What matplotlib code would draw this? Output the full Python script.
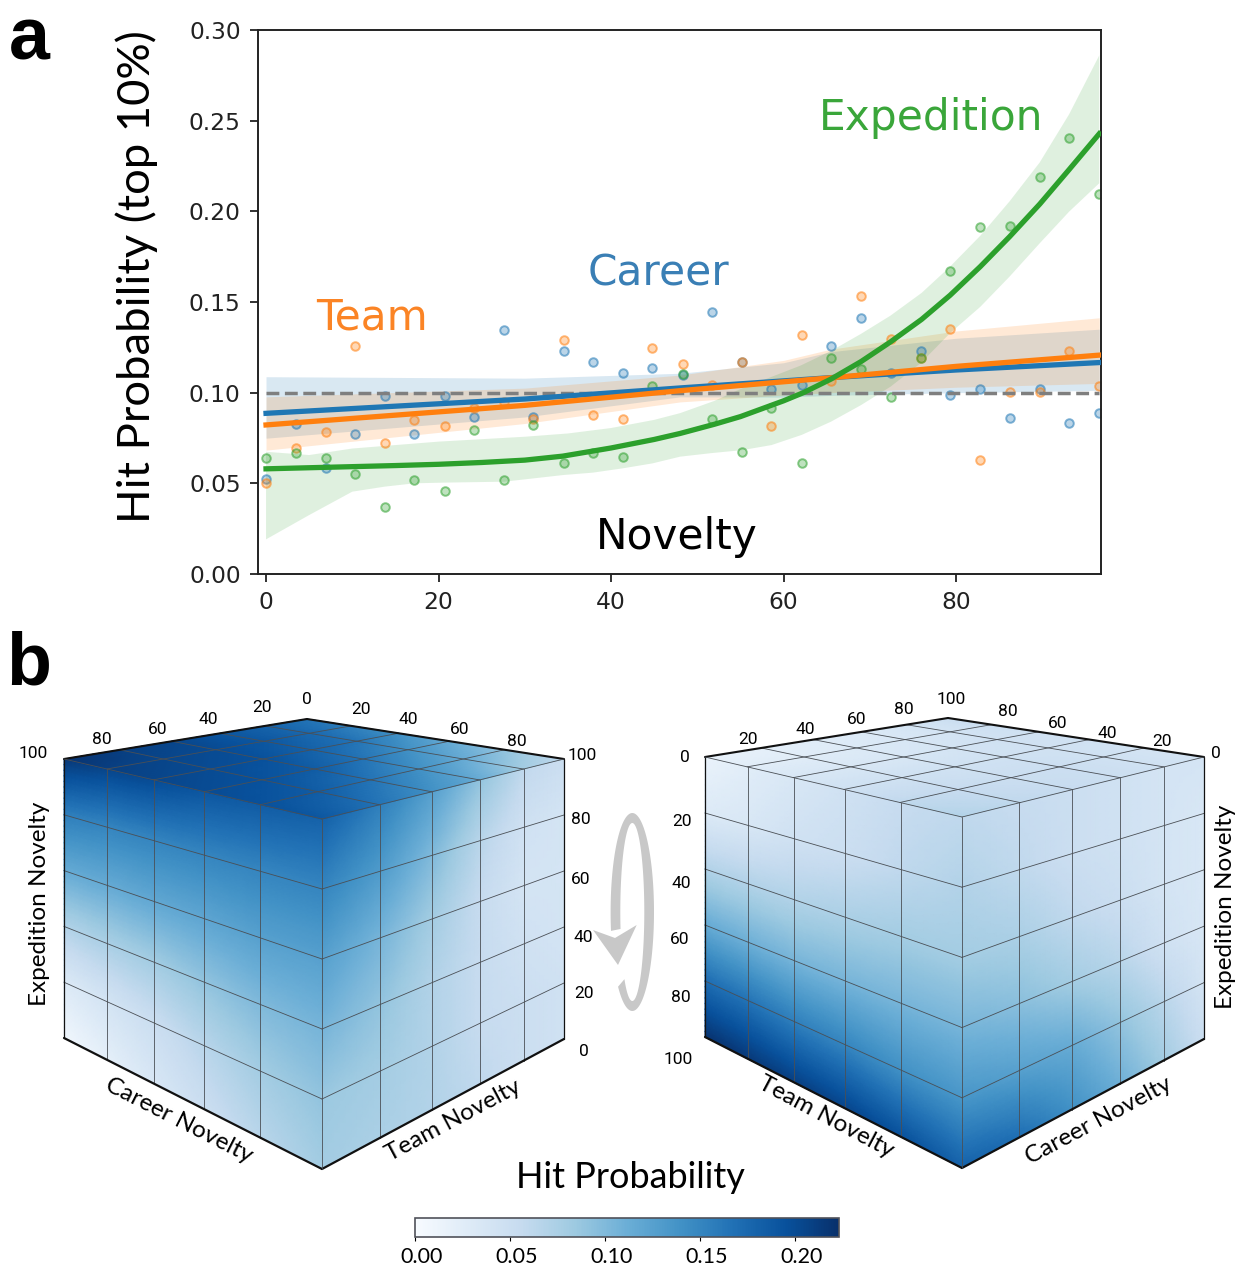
import numpy as np
import matplotlib
matplotlib.use("Agg")
import matplotlib.pyplot as plt
from matplotlib.cm import ScalarMappable
from matplotlib.colors import Normalize, to_rgba
from matplotlib.patches import Polygon
from matplotlib.transforms import ScaledTranslation

# ---------- panel a data ----------
novelty = [0, 3.45, 6.9, 10.3, 13.8, 17.2, 20.7, 24.1, 27.6, 31, 34.5, 37.9, 41.4, 44.8, 48.3,
           51.7, 55.2, 58.6, 62.1, 65.5, 69, 72.4, 75.9, 79.3, 82.8, 86.2, 89.7, 93.1, 96.6]
team_pts = [.0502, .0697, .0781, .1257, .0720, .0849, .0816, .0915, .0950, .0857, .1288, .0877, .0855, .1244, .116,
            .1040, .1167, .0816, .1320, .1064, .1534, .1295, .1190, .1350, .0628, .1005, .1002, .1228, .1036]
career_pts = [.0524, .0827, .0582, .0770, .0981, .0772, .0981, .0866, .1347, .0866, .1229, .1167, .1106, .1135, .110,
              .1444, .1169, .1018, .1042, .1259, .1414, .1110, .1229, .0985, .1018, .0862, .1018, .0830, .0890]
exped_pts = [.0641, .0669, .0641, .0551, .0367, .0518, .0459, .0792, .0518, .0824, .0610, .0669, .0643, .1039, .1103,
             .0855, .0675, .0913, .0610, .1190, .1130, .0976, .1190, .1673, .1915, .1920, .2189, .2402, .2097]

exped_x = [0, 5, 10, 15, 20, 25, 30, 34.4, 40, 45, 48, 52, 55, 60, 62.3, 65.5, 69, 72.4, 76, 79.3, 82.8, 86.2, 89.7, 93.1, 96.6]
exped_fit = [.0580, .0586, .0592, .0598, .0605, .0615, .0628, .0650, .0695, .0742, .0775, .0826, .0868, .0955, .1000,
             .1075, .1172, .1280, .1404, .1537, .1695, .1860, .2040, .2230, .2428]
exped_up_x = [0, 5, 10, 20, 30, 35, 40, 45, 48, 52, 55, 58.6, 62, 65.5, 69, 72.4, 76, 79.3, 82.8, 86.2, 89.7, 93.1, 96.6]
exped_up = [.0674, .0656, .0692, .0730, .0757, .0775, .0805, .0850, .0887, .0955, .1020, .1087, .1150, .1230, .1325,
            .1425, .1550, .1695, .1865, .2055, .2270, .2535, .2860]
exped_lo_x = [0, 5, 10, 13.8, 17.2, 20.7, 27.6, 34.5, 37.9, 41.4, 44.8, 48, 51.7, 55.2, 58.6, 62.1, 65.5, 69,
              72.4, 75.9, 79.3, 82.8, 86.2, 89.7, 93.1, 96.6]
exped_lo = [.0191, .0325, .0454, .0482, .0500, .0504, .0509, .0546, .0559, .0583, .0610, .0647, .0667, .0683,
            .0711, .0767, .0840, .0932, .1033, .1163, .1328, .1473, .1640, .1824, .1998, .2155]

trend_x = [0, 30, 48, 60, 65.5, 80, 96.6]
career_fit = [.0886, .0965, .1026, .1065, .1083, .1125, .1166]
career_up = [.1088, .1080, .1107, .1165, .1226, .1300, .1350]
career_lo = [.0749, .0866, .0977, .0975, .0985, .1000, .1013]
team_fit = [.0822, .0930, .1011, .1060, .1082, .1145, .1207]
team_up = [.0977, .1025, .1097, .1178, .1240, .1340, .1413]
team_lo = [.0683, .0830, .0949, .0987, .1000, .1030, .1051]

# ---------- panel b data (hit probability on each cube face, 6x6 nodes) ----------
L_left = [[.008, .02, .035, .05, .065, .08], [.03, .04, .05, .065, .08, .09], [.07, .075, .08, .09, .10, .105],
          [.115, .115, .118, .12, .125, .125], [.155, .15, .15, .15, .15, .15], [.215, .205, .20, .19, .185, .18]]
L_right = [[.08, .075, .07, .06, .05, .045], [.085, .08, .07, .055, .05, .045], [.105, .09, .07, .055, .045, .04],
           [.125, .105, .08, .055, .04, .04], [.15, .13, .10, .065, .045, .04], [.18, .155, .125, .09, .06, .05]]
L_top = [[.22, .21, .205, .20, .195, .19], [.21, .205, .20, .195, .185, .165], [.205, .20, .195, .185, .165, .14],
         [.19, .19, .18, .165, .14, .115], [.18, .175, .165, .14, .115, .08], [.165, .155, .14, .115, .09, .06]]
R_left = [[.015, .025, .035, .045, .055, .06], [.03, .035, .045, .05, .06, .07], [.07, .07, .07, .075, .08, .08],
          [.115, .11, .105, .105, .105, .105], [.17, .165, .155, .15, .14, .135], [.22, .215, .21, .205, .195, .18]]
R_right = [[.06, .055, .05, .045, .04, .04], [.07, .06, .05, .045, .04, .035], [.08, .075, .06, .05, .04, .035],
           [.105, .095, .08, .065, .045, .035], [.135, .125, .115, .09, .065, .04], [.18, .17, .14, .11, .08, .05]]
R_top = [[.015, .025, .035, .045, .06, .07], [.02, .025, .035, .045, .055, .06], [.025, .03, .035, .045, .05, .055],
         [.03, .035, .04, .045, .05, .05], [.04, .04, .045, .045, .045, .045], [.05, .05, .045, .045, .04, .04]]

cube_ticks = ["20", "40", "60", "80"]
cbar_ticks = [0.0, 0.05, 0.10, 0.15, 0.20]
cbar_max = 0.2233

# ---------- style ----------
W, H = 1239, 1268
BLUE, ORANGE, GREEN = "#1f77b4", "#ff7f0e", "#2ca02c"
LABEL_FONT = ["Lato", "DejaVu Sans"]
TICK_FONT = ["Roboto", "DejaVu Sans"]

fig = plt.figure(figsize=(W / 100, H / 100), dpi=100)


def box(l, t, r, b):
    return [l / W, 1 - b / H, (r - l) / W, (b - t) / H]


# ---------- panel a ----------
ax = fig.add_axes(box(258, 30, 1101, 574))
ax.set_xlim(-0.93, 96.8)
ax.set_ylim(0, 0.30)
ax.set_xticks([0, 20, 40, 60, 80])
ax.set_yticks([0, .05, .10, .15, .20, .25, .30])
ax.yaxis.set_major_formatter(lambda v, p: f"{v:.2f}")
ax.tick_params(labelsize=16.8, length=6, width=1.3, pad=6.5, colors="#222222")
for s in ax.spines.values():
    s.set_linewidth(1.4)
    s.set_color("#222222")

ax.fill_between(trend_x, career_lo, career_up, color=BLUE, alpha=.17, lw=0, zorder=1)
ax.fill_between(trend_x, team_lo, team_up, color=ORANGE, alpha=.17, lw=0, zorder=1)
ax.fill(list(exped_up_x) + list(exped_lo_x)[::-1], list(exped_up) + list(exped_lo)[::-1],
        color=GREEN, alpha=.15, lw=0, zorder=1)
for pts, c in ((career_pts, BLUE), (team_pts, ORANGE), (exped_pts, GREEN)):
    ax.scatter(novelty, pts, s=38, facecolors=to_rgba(c, .3), edgecolors=to_rgba(c, .55), lw=1.4, zorder=2)
ax.plot([0, 96.6], [.10, .10], color="#7f7f7f", lw=2.5, ls="--", zorder=3)
ax.plot(trend_x, career_fit, color=BLUE, lw=3.8, zorder=4)
ax.plot(trend_x, team_fit, color=ORANGE, lw=3.8, zorder=4)
ax.plot(exped_x, exped_fit, color=GREEN, lw=3.8, zorder=4)

# ---------- overlay in pixel space ----------
ov = fig.add_axes([0, 0, 1, 1], zorder=5)
ov.set_xlim(0, W)
ov.set_ylim(H, 0)
ov.axis("off")
ov.patch.set_alpha(0)


def txt(x, y, s, size, color="black", rot=0, font=None, **kw):
    ov.text(x, y, s, fontsize=size, color=color, rotation=rot, ha="center", va="center",
            rotation_mode="anchor", family=font or LABEL_FONT, **kw)


txt(372, 318, "Team", 30.4, "#fb8425", font=["DejaVu Sans"])
txt(658, 273, "Career", 30.4, "#3a7fb5", font=["DejaVu Sans"])
txt(931, 118, "Expedition", 30.4, "#3aa63a", font=["DejaVu Sans"])
txt(677, 537, "Novelty", 30.4, font=["DejaVu Sans"])
txt(137, 277, "Hit Probability (top 10%)", 32.7, rot=90)
txt(29, 40, "a", 53, font=["Liberation Sans"], weight="bold")
txt(29, 665, "b", 53, font=["Liberation Sans"], weight="bold")
txt(630, 1178, "Hit Probability", 26)


def homography(p00, p10, p11, p01):
    src = [(0, 0), (1, 0), (1, 1), (0, 1)]
    dst = [p00, p10, p11, p01]
    A, b = [], []
    for (u, v), (x, y) in zip(src, dst):
        A.append([u, v, 1, 0, 0, 0, -u * x, -v * x])
        A.append([0, 0, 0, u, v, 1, -u * y, -v * y])
        b += [x, y]
    h = np.linalg.solve(np.array(A, float), np.array(b, float))

    def f(u, v):
        d = h[6] * u + h[7] * v + 1
        return (h[0] * u + h[1] * v + h[2]) / d, (h[3] * u + h[4] * v + h[5]) / d
    return f


norm = Normalize(0, cbar_max)
GRID = np.linspace(0, 1, 6)
FINE = np.linspace(0, 1, 51)


def refine(values):
    vals = np.array(values, float)
    rows = np.array([np.interp(FINE, GRID, r) for r in vals])
    return np.array([np.interp(FINE, GRID, c) for c in rows.T]).T


def face(corners, values):
    f = homography(*corners)
    U, V = np.meshgrid(FINE, FINE)
    X, Y = f(U, V)
    ov.pcolormesh(X, Y, refine(values), shading="gouraud", cmap="Blues", norm=norm, zorder=1)
    t = np.linspace(0, 1, 2)
    for g in GRID[1:-1]:
        ov.plot(*f(g + 0 * t, t), color="#4a4f55", lw=.6, zorder=2)
        ov.plot(*f(t, g + 0 * t), color="#4a4f55", lw=.6, zorder=2)


def outline(L_t, apex, R_t, R_b, F_b, L_b, F_t):
    for a, b, w in ((L_t, apex, 1.5), (apex, R_t, 1.5), (L_b, F_b, 1.6), (F_b, R_b, 1.6),
                    (L_t, L_b, .9), (R_t, R_b, .9), (L_t, F_t, .6), (F_t, R_t, .6), (F_t, F_b, .6)):
        ov.plot([a[0], b[0]], [a[1], b[1]], color="#111111" if w > .7 else "#4a4f55", lw=w, zorder=3,
                solid_capstyle="round")


# left cube
LT, AP, RT, FT, LB, RB, FB = (64, 759), (307, 719), (564, 759), (322, 819), (64, 1038), (564, 1039), (322, 1169)
face((LB, FB, FT, LT), L_left)
face((FB, RB, RT, FT), L_right)
face((LT, FT, RT, AP), L_top)
outline(LT, AP, RT, RB, FB, LB, FT)
# right cube
LT, AP, RT, FT, LB, RB, FB = (705, 757), (948, 718), (1204, 757), (962, 817), (705, 1037), (1204, 1039), (962, 1168)
face((LT, FT, FB, LB), R_left)
face((FT, RT, RB, FB), R_right)
face((LT, FT, RT, AP), R_top)
outline(LT, AP, RT, RB, FB, LB, FT)

TS = 12.5
for lab, pos in zip(["100"] + cube_ticks[::-1] + ["0"], [(33, 753), (102, 739), (158, 729), (208, 719), (262, 708), (307, 699)]):
    txt(*pos, lab, TS, font=TICK_FONT)
for lab, pos in zip(cube_ticks + ["100"], [(361, 710), (408, 719), (460, 729), (517, 741), (582, 755)]):
    txt(*pos, lab, TS, font=TICK_FONT)
for lab, pos in zip(cube_ticks[::-1] + ["0"], [(581, 819), (581, 879), (583, 937), (584, 994), (584, 1052)]):
    txt(*pos, lab, TS, font=TICK_FONT)
for lab, pos in zip(cube_ticks + ["100"], [(748, 739), (805, 729), (857, 719), (904, 710), (951, 700)]):
    txt(*pos, lab, TS, font=TICK_FONT)
for lab, pos in zip(cube_ticks[::-1] + ["0"], [(1008, 711), (1058, 723), (1107, 733), (1162, 741), (1216, 753)]):
    txt(*pos, lab, TS, font=TICK_FONT)
for lab, pos in zip(["0"] + cube_ticks + ["100"], [(685, 757), (682, 822), (681, 884), (680, 940), (681, 998), (678, 1059)]):
    txt(*pos, lab, TS, font=TICK_FONT)

AS = 17.5
txt(40, 904, "Expedition Novelty", AS, rot=90)
txt(179, 1120, "Career Novelty", AS, rot=-27)
txt(453, 1121, "Team Novelty", AS, rot=28)
txt(826, 1117, "Team Novelty", AS, rot=-28)
txt(1099, 1121, "Career Novelty", AS, rot=28)
txt(1225, 907, "Expedition Novelty", AS, rot=90)

# rotation arrow
t = np.radians(np.linspace(131, -191, 200))
out = np.c_[632.3 + 21.7 * np.cos(t), 912 + 99 * np.sin(t)]
inn = np.c_[632.3 + 12 * np.cos(t), 912 + 89 * np.sin(t)]
ov.add_patch(Polygon(np.r_[out, inn[::-1]], closed=True, fc="#c8c8c8", ec="none", zorder=3))
ov.add_patch(Polygon([(593, 930), (615, 938), (636.7, 925), (618, 965)], closed=True, fc="#c8c8c8", ec="none", zorder=3))

# colour bar
cax = fig.add_axes(box(415, 1218, 839.3, 1237))
cb = fig.colorbar(ScalarMappable(norm=norm, cmap="Blues"), cax=cax, orientation="horizontal")
cb.set_ticks(cbar_ticks)
cb.set_ticklabels([f"{v:.2f}" for v in cbar_ticks])
cb.outline.set_edgecolor("#50525a")
cb.outline.set_linewidth(1.2)
cax.tick_params(length=3, width=.8, pad=4, labelsize=15.5)
for lab in cax.get_xticklabels():
    lab.set_family(LABEL_FONT)
    lab.set_transform(lab.get_transform() + ScaledTranslation(6.5 / 100, 0, fig.dpi_scale_trans))

fig.savefig("out.png", dpi=100)
